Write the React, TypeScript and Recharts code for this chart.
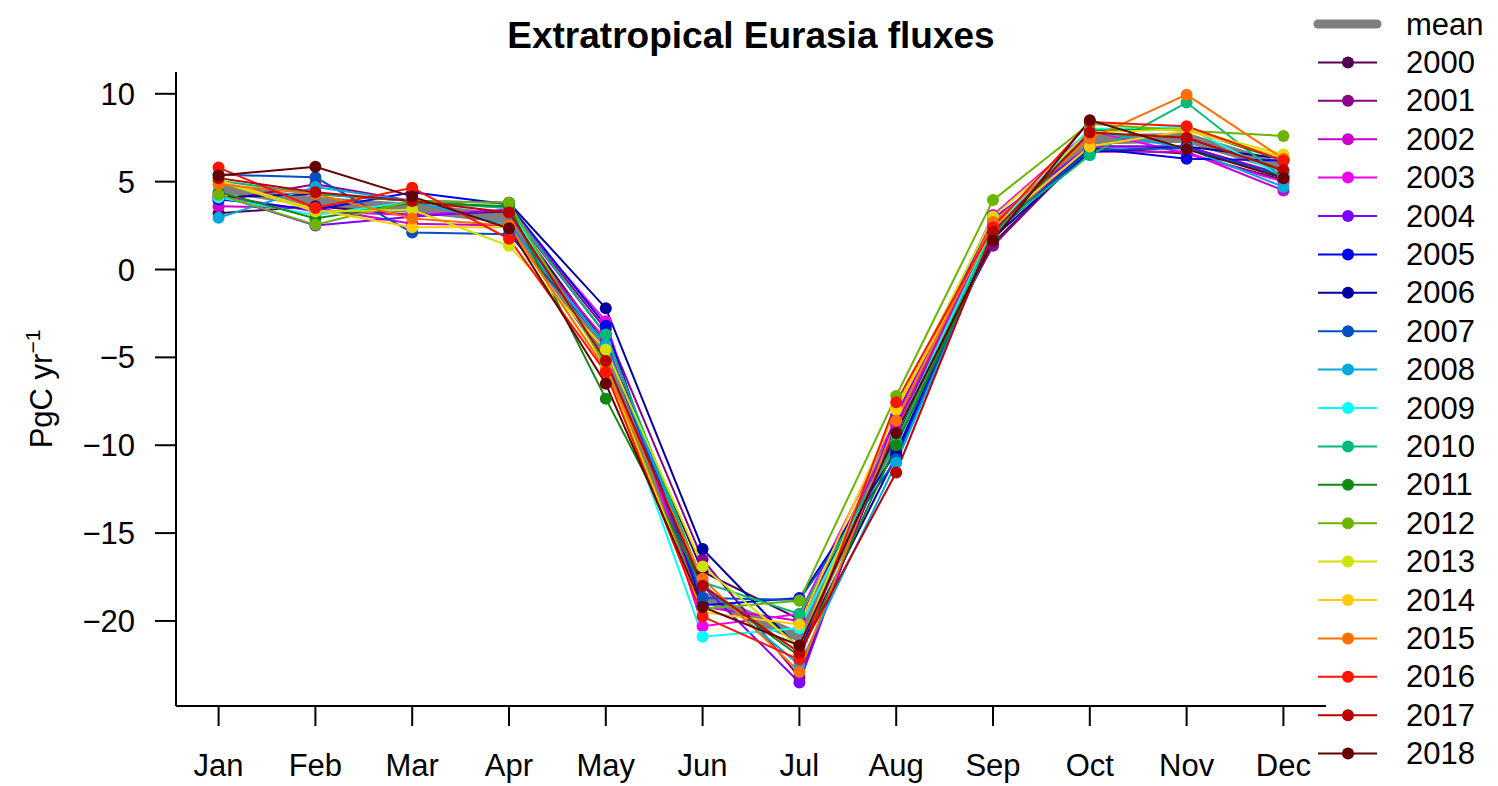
import { LineChart, Line, XAxis, YAxis, Legend } from 'recharts';

const FONT = '"Liberation Sans", Arial, Helvetica, sans-serif';

const months = ['Jan', 'Feb', 'Mar', 'Apr', 'May', 'Jun', 'Jul', 'Aug', 'Sep', 'Oct', 'Nov', 'Dec'];
const monthNums = [1, 2, 3, 4, 5, 6, 7, 8, 9, 10, 11, 12];
const yTicks = [-20, -15, -10, -5, 0, 5, 10];

const years = [
  2000, 2001, 2002, 2003, 2004, 2005, 2006, 2007, 2008, 2009,
  2010, 2011, 2012, 2013, 2014, 2015, 2016, 2017, 2018,
];

const yearColors = [
  '#500050', '#8B008B', '#CC00CC', '#EE00EE', '#8000FF', '#0000EE', '#00009E', '#0050C0', '#00A8E0', '#00FFFF',
  '#00BB77', '#118811', '#6BB400', '#D0E000', '#FFCC00', '#FF7000', '#FF1400', '#BB0000', '#660000',
];

const meanFlux = [4.65, 3.85, 3.5, 2.9, -4.8, -18.6, -20.9, -9.2, 2.3, 7.4, 7.5, 5.8];

// one row per year, Jan..Dec (PgC/yr)
const yearFlux: number[][] = [
  [3.2, 3.6, 3.1, 3.3, -4.3, -17.2, -19.9, -9.6, 1.5, 6.9, 6.6, 5.1], // 2000
  [3.9, 4.85, 3.9, 3.5, -3.4, -16.5, -23.2, -8.8, 1.35, 7.0, 7.0, 5.4], // 2001
  [3.6, 3.5, 2.6, 2.5, -4.0, -19.2, -20.0, -9.0, 2.6, 6.7, 6.7, 4.5], // 2002
  [4.2, 3.3, 3.1, 3.4, -2.95, -20.3, -19.6, -8.5, 3.1, 7.9, 6.6, 5.0], // 2003
  [4.25, 2.5, 3.0, 3.4, -3.7, -18.0, -23.5, -8.3, 2.9, 7.0, 7.0, 5.3], // 2004
  [4.0, 3.4, 4.4, 3.7, -3.2, -19.1, -18.7, -10.4, 2.0, 6.9, 6.3, 6.2], // 2005
  [4.1, 4.3, 3.9, 3.8, -2.2, -15.9, -21.6, -10.6, 1.8, 6.7, 7.0, 6.3], // 2006
  [5.4, 5.25, 2.1, 2.0, -4.2, -18.7, -18.8, -10.8, 2.1, 6.8, 6.9, 5.3], // 2007
  [2.95, 4.7, 3.9, 2.5, -4.3, -17.9, -22.5, -11.0, 1.9, 7.9, 6.9, 4.7], // 2008
  [4.1, 3.1, 3.85, 3.5, -5.3, -20.9, -20.4, -9.4, 2.3, 8.0, 8.1, 5.3], // 2009
  [5.05, 4.3, 3.9, 3.5, -3.7, -17.8, -19.6, -9.8, 2.2, 6.5, 9.5, 5.2], // 2010
  [4.4, 2.9, 3.8, 3.6, -7.35, -18.0, -22.0, -10.0, 1.8, 7.9, 8.0, 6.2], // 2011
  [4.25, 2.55, 3.9, 3.8, -5.5, -19.3, -18.85, -7.2, 3.95, 8.3, 7.9, 7.6], // 2012
  [5.0, 3.3, 3.4, 1.35, -4.55, -16.9, -21.5, -7.9, 3.0, 7.8, 8.0, 6.55], // 2013
  [5.1, 3.4, 2.4, 2.4, -5.6, -19.5, -20.2, -8.0, 2.4, 7.0, 7.9, 6.4], // 2014
  [4.85, 4.3, 2.9, 2.5, -5.7, -17.6, -22.9, -8.6, 2.7, 7.45, 9.95, 6.3], // 2015
  [5.8, 3.5, 4.65, 1.75, -5.85, -19.75, -22.2, -7.55, 2.4, 8.4, 8.15, 6.2], // 2016
  [5.2, 4.4, 3.9, 3.25, -5.2, -18.0, -21.8, -11.55, 2.15, 7.8, 7.5, 5.65], // 2017
  [5.35, 5.85, 4.15, 2.35, -6.5, -19.2, -21.4, -9.3, 1.65, 8.5, 6.85, 5.2], // 2018
];

const data = monthNums.map((m, i) => {
  const row: Record<string, number> = { m, avg: meanFlux[i] };
  years.forEach((y, j) => {
    row[`y${y}`] = yearFlux[j][i];
  });
  return row;
});

const fmtMinus = (v: number) => (v < 0 ? `\u2212${Math.abs(v)}` : `${v}`);

function LegendBox() {
  const rowY = (i: number) => 24 + i * 38.4;
  return (
    <svg width={198} height={786} style={{ display: 'block' }}>
      <line x1={18} x2={77} y1={rowY(0)} y2={rowY(0)} stroke="#7F7F7F" strokeWidth={9} strokeLinecap="round" />
      <text x={106} y={rowY(0)} dominantBaseline="central" fontSize={31} fontFamily={FONT} fill="#000">
        mean
      </text>
      {years.map((y, j) => (
        <g key={y}>
          <line x1={18} x2={77} y1={rowY(j + 1)} y2={rowY(j + 1)} stroke={yearColors[j]} strokeWidth={2} />
          <circle cx={48} cy={rowY(j + 1)} r={6} fill={yearColors[j]} />
          <text x={106} y={rowY(j + 1)} dominantBaseline="central" fontSize={31} fontFamily={FONT} fill="#000">
            {y}
          </text>
        </g>
      ))}
    </svg>
  );
}

const yLabel = () => (
  <text
    x={52}
    y={389}
    transform="rotate(-90 52 389)"
    textAnchor="middle"
    fontSize={31}
    fontFamily={FONT}
    fill="#000"
  >
    PgC yr
    <tspan dy={-12} fontSize={21}>
      {'\u22121'}
    </tspan>
  </text>
);

export default function App() {
  return (
    <div style={{ position: 'absolute', left: 0, top: 0, width: 1498, height: 786, background: '#fff', fontFamily: FONT }}>
      <svg width={1498} height={60} style={{ position: 'absolute', left: 0, top: 0 }}>
        <text x={751} y={48} textAnchor="middle" fontSize={37} fontWeight="bold" fontFamily={FONT} fill="#000">
          Extratropical Eurasia fluxes
        </text>
      </svg>
      <LineChart width={1498} height={786} data={data} margin={{ top: 72, right: 172, bottom: 0, left: 0 }}>
        <XAxis
          dataKey="m"
          type="number"
          domain={[0.56, 12.44]}
          allowDataOverflow
          ticks={monthNums}
          interval={0}
          tickFormatter={(v: number) => months[v - 1]}
          height={80}
          tickSize={20}
          tickMargin={28}
          axisLine={{ stroke: '#000', strokeWidth: 2 }}
          tickLine={{ stroke: '#000', strokeWidth: 2 }}
          tick={{ fill: '#000', fontSize: 31, fontFamily: FONT }}
        />
        <YAxis
          type="number"
          domain={[-24.84, 11.24]}
          allowDataOverflow
          ticks={yTicks}
          interval={0}
          tickFormatter={fmtMinus}
          width={176}
          tickSize={21}
          tickMargin={20}
          axisLine={{ stroke: '#000', strokeWidth: 2 }}
          tickLine={{ stroke: '#000', strokeWidth: 2 }}
          tick={{ fill: '#000', fontSize: 31, fontFamily: FONT }}
          label={{ content: yLabel }}
        />
        <Legend
          layout="vertical"
          align="center"
          verticalAlign="middle"
          width={198}
          wrapperStyle={{ left: 1300, top: 0 }}
          content={() => <LegendBox />}
        />
        <Line
          key="avg"
          type="linear"
          dataKey="avg"
          stroke="#7F7F7F"
          strokeWidth={10}
          strokeLinecap="round"
          strokeLinejoin="round"
          dot={false}
          activeDot={false}
          isAnimationActive={false}
        />
        {years.map((y, j) => (
          <Line
            key={y}
            type="linear"
            dataKey={`y${y}`}
            stroke={yearColors[j]}
            strokeWidth={2}
            dot={{ r: 6, fill: yearColors[j], stroke: yearColors[j], strokeWidth: 0 }}
            activeDot={false}
            isAnimationActive={false}
          />
        ))}
      </LineChart>
    </div>
  );
}
